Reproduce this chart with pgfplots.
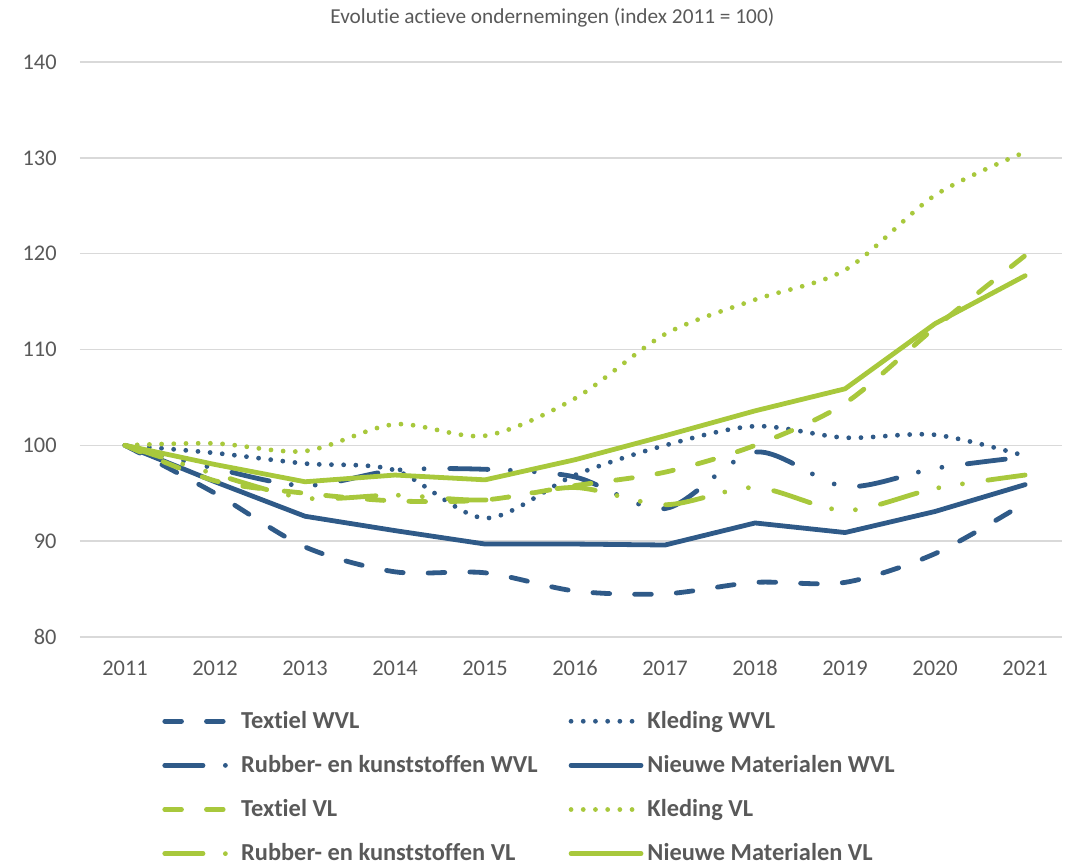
\documentclass[border=0pt]{standalone}
\usepackage{fontspec}
\setmainfont{Carlito}[Ligatures=NoCommon]
\usepackage{pgfplots}
\pgfplotsset{compat=1.18}
\definecolor{cblue}{RGB}{47,90,136}
\definecolor{cgreen}{RGB}{168,200,60}
\definecolor{cgrid}{RGB}{217,217,217}
\definecolor{ctext}{RGB}{89,89,89}
\begin{document}
\begin{tikzpicture}
\begin{axis}[
  scale only axis,
  width=491pt, height=287.5pt,
  xmin=2010.5, xmax=2021.41,
  ymin=80, ymax=140,
  xtick={2011,2012,2013,2014,2015,2016,2017,2018,2019,2020,2021},
  xticklabels={2011,2012,2013,2014,2015,2016,2017,2018,2019,2020,2021},
  ytick={80,90,100,110,120,130,140},
  yticklabels={80,90,100,110,120,130,140},
  major tick length=0pt,
  axis line style={draw=none},
  ymajorgrids,
  grid style={cgrid, line width=0.8pt},
  tick label style={font=\fontsize{11.2}{13}\selectfont, text=ctext},
  yticklabel style={inner sep=0pt, xshift=-11.5pt},
  xticklabel style={inner sep=0pt, anchor=north, text height=8pt, text depth=0pt, yshift=-11pt},
  every axis title shift=0pt,
  title={Evolutie actieve ondernemingen (index 2011 = 100)},
  title style={font=\fontsize{10.65}{12}\selectfont, text=ctext, anchor=center, at={(axis description cs:0.481,1.0765)}},
  legend columns=2,
  legend cell align=left,
  legend style={draw=none, fill=none, at={(axis description cs:0.0835,-0.1214)}, anchor=north west,
    font=\bfseries\fontsize{12.2}{14}\selectfont, text=ctext,
    /tikz/every even column/.append style={column sep=13.5pt},
    row sep=8pt, inner sep=0pt},
  legend image code/.code={\draw[#1] (0pt,0pt) -- (35pt,0pt);},
  every axis plot/.append style={line width=2.4pt, line cap=round, line join=round},
]
\addplot[cblue, smooth, dash pattern=on 8.35pt off 12.5pt] coordinates {
(2011,100) (2012,95.0) (2013,89.4) (2014,86.8) (2015,86.7) (2016,84.8) (2017,84.5) (2018,85.7) (2019,85.7) (2020,88.7) (2021,94.0)};
\addlegendentry{Textiel WVL}
\addplot[cblue, smooth, dash pattern=on 0pt off 6.1pt] coordinates {
(2011,100) (2012,99.2) (2013,98.1) (2014,97.4) (2015,92.4) (2016,96.9) (2017,100.0) (2018,102.0) (2019,100.8) (2020,101.1) (2021,98.9)};
\addlegendentry{Kleding WVL}
\addplot[cblue, smooth, dash pattern=on 19.1pt off 11.2pt on 0pt off 12pt on 0pt off 12.85pt] coordinates {
(2011,100) (2012,97.6) (2013,95.8) (2014,97.4) (2015,97.5) (2016,96.7) (2017,93.4) (2018,99.3) (2019,95.7) (2020,97.6) (2021,98.8)};
\addlegendentry{Rubber- en kunststoffen WVL}
\addplot[cblue] coordinates {
(2011,100) (2012,96.2) (2013,92.6) (2014,91.1) (2015,89.7) (2016,89.7) (2017,89.6) (2018,91.9) (2019,90.9) (2020,93.1) (2021,95.9)};
\addlegendentry{Nieuwe Materialen WVL}
\addplot[cgreen, smooth, dash pattern=on 8.35pt off 12.5pt] coordinates {
(2011,100) (2012,96.3) (2013,95.0) (2014,94.2) (2015,94.3) (2016,95.8) (2017,97.2) (2018,100.0) (2019,104.4) (2020,112.3) (2021,119.8)};
\addlegendentry{Textiel VL}
\addplot[cgreen, smooth, dash pattern=on 0pt off 6.1pt] coordinates {
(2011,100) (2012,100.2) (2013,99.4) (2014,102.2) (2015,101.0) (2016,104.9) (2017,111.6) (2018,115.2) (2019,118.3) (2020,126.1) (2021,130.6)};
\addlegendentry{Kleding VL}
\addplot[cgreen, smooth, dash pattern=on 19.1pt off 11.2pt on 0pt off 12pt on 0pt off 12.85pt] coordinates {
(2011,100) (2012,97.0) (2013,94.5) (2014,94.8) (2015,94.3) (2016,95.6) (2017,93.8) (2018,95.6) (2019,93.2) (2020,95.5) (2021,96.9)};
\addlegendentry{Rubber- en kunststoffen VL}
\addplot[cgreen] coordinates {
(2011,100) (2012,98.0) (2013,96.2) (2014,96.9) (2015,96.4) (2016,98.5) (2017,101.0) (2018,103.6) (2019,105.9) (2020,112.7) (2021,117.7)};
\addlegendentry{Nieuwe Materialen VL}
\end{axis}
\path ([shift={(-40pt,-112.5pt)}]current axis.south west) rectangle ([shift={(494pt,31pt)}]current axis.north west);
\end{tikzpicture}
\end{document}
